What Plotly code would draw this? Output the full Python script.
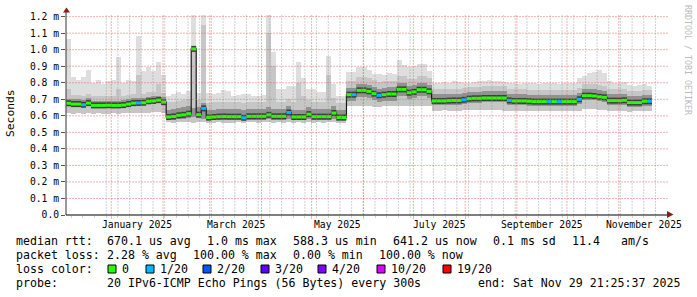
import plotly.graph_objects as go
import pandas as pd

# ---------------- data ----------------
T_START = "2024-12-04 21:25:37"
T_END = "2025-11-29 21:25:37"
BIN_DAYS = 3

# median rtt per 3-day bin (microseconds)
median_us = [676, 671, 671, 667, 677, 663, 663, 663, 664, 663,
             663, 665, 671, 677, 678, 679, 688, 690, 695, 683,
             593, 596, 603, 606, 613, 1005, 607, 645, 590, 593,
             595, 596, 595, 595, 595, 588, 597, 597, 597, 597,
             606, 597, 597, 597, 620, 593, 593, 593, 610, 595,
             595, 595, 595, 617, 590, 590, 728, 728, 754, 754,
             748, 734, 724, 728, 732, 732, 760, 760, 740, 745,
             758, 758, 748, 690, 690, 690, 692, 693, 693, 697,
             704, 706, 706, 708, 708, 708, 708, 708, 693, 690,
             690, 690, 688, 686, 686, 686, 686, 686, 686, 686,
             686, 686, 700, 722, 722, 720, 715, 712, 692, 692,
             692, 694, 680, 680, 680, 688, 688]

# lost pings (out of 20) per bin
loss_cnt = [0, 0, 0, 1, 0, 0, 0, 0, 0, 0,
            0, 0, 0, 0, 1, 0, 0, 0, 0, 0,
            0, 0, 0, 0, 0, 0, 0, 1, 0, 0,
            0, 0, 0, 0, 0, 1, 0, 0, 0, 0,
            0, 0, 0, 0, 1, 0, 0, 0, 0, 0,
            0, 0, 0, 0, 0, 0, 0, 1, 0, 0,
            0, 0, 1, 0, 0, 0, 0, 0, 0, 0,
            0, 0, 0, 0, 0, 0, 0, 0, 0, 1,
            0, 0, 0, 0, 0, 0, 0, 0, 1, 0,
            0, 0, 0, 0, 0, 0, 1, 0, 1, 0,
            0, 0, 1, 0, 0, 0, 0, 0, 0, 0,
            0, 0, 0, 0, 0, 0, 1]

# smoke: lowest ping, lower quartile, upper quartile, upper 90%, highest ping (microseconds)
lo_us = ([615, 614, 618, 612, 616, 613, 615, 612, 614, 616, 613, 615, 617, 616, 618, 615, 620, 622, 624, 618]
         + [560, 558, 562, 560, 563, 558, 560, 561, 556, 558, 560, 557, 559, 558, 560, 555, 561, 560,
            558, 560, 562, 559, 560, 558, 561, 557, 560, 558, 562, 559, 560, 558, 561, 563, 556, 558]
         + [660, 658, 662, 660, 658, 656, 655, 658, 660, 657, 662, 660, 658, 659, 662, 660, 658]
         + [632, 630, 633, 631, 630, 632, 634, 636, 635, 633, 636, 634, 635, 633, 632, 630, 631, 629,
            630, 632, 628, 630, 631, 629, 630, 632, 628, 631, 630, 632, 640, 642, 640, 638, 636, 630,
            631, 629, 632, 626, 628, 627, 630, 628])

q_lo_us = ([661, 656, 656, 652, 662, 648, 648, 648, 649, 648, 648, 650, 656, 662, 663, 664, 673, 675, 680, 668]
           + [573, 576, 580, 583, 588, 590, 585, 580, 570, 573, 575, 576, 575, 575, 575, 572, 577, 577,
              577, 577, 580, 577, 577, 577, 580, 573, 573, 573, 578, 575, 575, 575, 575, 580, 570, 570]
           + [688, 688, 714, 714, 708, 694, 684, 688, 692, 692, 720, 720, 700, 705, 718, 718, 708]
           + [663, 663, 663, 665, 666, 666, 670,
              677, 679, 679, 681, 681, 681, 681, 681, 666, 663,
              663, 663, 661, 659, 659, 659, 659, 659, 659, 659,
              659, 659, 673, 695, 695, 693, 688, 685, 665, 665,
              665, 667, 653, 653, 653, 661, 661])

q_hi_us = ([704, 699, 699, 695, 705, 691, 691, 691, 692, 691, 691, 693, 699, 705, 706, 707, 716, 718, 723, 711]
           + [638, 641, 648, 651, 658, 650, 652, 680, 635, 638, 640, 641, 640, 640, 640, 636, 642, 642,
              642, 642, 651, 642, 642, 642, 660, 638, 638, 638, 652, 640, 640, 640, 640, 660, 635, 635]
           + [768, 768, 794, 794, 788, 774, 764, 768, 772, 772, 800, 800, 780, 785, 798, 798, 788]
           + [730, 730, 730, 732, 733, 733, 737,
              744, 746, 746, 748, 748, 748, 748, 748, 733, 730,
              730, 730, 728, 726, 726, 726, 726, 726, 726, 726,
              726, 726, 740, 762, 762, 760, 755, 752, 732, 732,
              732, 734, 720, 720, 720, 728, 728])

p_hi_us = ([760, 726, 726, 722, 732, 718, 718, 718, 719, 718, 760, 720, 726, 732, 850, 734, 743, 745, 790, 738]
           + [681, 684, 691, 694, 701, 1000, 695, 1150, 678, 681, 683, 684, 683, 683, 683, 680, 685, 685,
              685, 685, 1100, 900, 685, 685, 700, 681, 800, 720, 695, 683, 683, 683, 850, 705, 678, 678]
           + [808, 808, 834, 834, 828, 814, 804, 808, 812, 812, 840, 840, 820, 825, 838, 838, 828]
           + [760, 760, 760, 762, 763, 763, 767,
              774, 776, 776, 778, 778, 778, 778, 778, 763, 760,
              760, 760, 758, 756, 756, 756, 756, 756, 756, 756,
              756, 756, 770, 792, 792, 790, 785, 782, 762, 762,
              762, 764, 750, 750, 750, 758, 758])

hi_us = [1066, 834, 815, 834, 880, 800, 815, 790, 810, 815,
         955, 800, 815, 810, 1080, 870, 895, 870, 925, 850,
         720, 735, 745, 735, 750, 1210, 740, 1210, 740, 735,
         740, 755, 750, 720, 725, 730, 735, 720, 720, 725,
         1210, 985, 760, 760, 780, 780, 925, 830, 760, 760,
         745, 745, 965, 790, 720, 720, 864, 864, 895, 895,
         880, 855, 855, 850, 860, 855, 935, 910, 895, 900,
         915, 915, 870, 800, 800, 805, 800, 810, 805, 800,
         800, 805, 810, 810, 815, 810, 810, 805, 800, 800,
         795, 800, 800, 800, 795, 800, 800, 800, 795, 800,
         800, 800, 830, 840, 860, 865, 880, 860, 810, 800,
         800, 805, 785, 780, 785, 790, 780]

loss_levels = [0, 1, 2, 3, 4, 10, 19]
loss_labels = ["0", "1/20", "2/20", "3/20", "4/20", "10/20", "19/20"]
loss_colors = ["#26ff00", "#00b8ff", "#0059ff", "#5e00ff", "#7e00ff", "#dd00ff", "#ff0000"]

y_tick_ms = [0.0, 0.1, 0.2, 0.3, 0.4, 0.5, 0.6, 0.7, 0.8, 0.9, 1.0, 1.1, 1.2]
y_tick_text = ["0.0", "0.1 m", "0.2 m", "0.3 m", "0.4 m", "0.5 m", "0.6 m",
               "0.7 m", "0.8 m", "0.9 m", "1.0 m", "1.1 m", "1.2 m"]

label_months = ["2025-01-01", "2025-03-01", "2025-05-01", "2025-07-01", "2025-09-01", "2025-11-01"]
label_texts = ["January 2025", "March 2025", "May 2025", "July 2025", "September 2025", "November 2025"]

legend_rows = [
    [("median rtt:", 16), ("670.1 us avg", 107), ("1.0 ms max", 207), ("588.3 us min", 293),
     ("641.2 us now", 393), ("0.1 ms sd", 493), ("11.4", 572), ("am/s", 621)],
    [("packet loss:", 16), ("2.28 % avg", 107), ("100.00 % max", 193), ("0.00 % min", 293),
     ("100.00 % now", 379)],
    [("loss color:", 16)],
    [("probe:", 16), ("20 IPv6-ICMP Echo Pings (56 Bytes) every 300s", 107),
     ("end: Sat Nov 29 21:25:37 2025", 478)],
]
swatch_px = [108, 146, 203, 261, 318, 377, 443]

# ---------------- geometry ----------------
W, H = 697, 297
ML, MR, MT, MB = 66, 30, 15, 82
PW, PH = W - ML - MR, H - MT - MB
Y_MAX = 1.21e-3
MONO = "DejaVu Sans Mono"


def xp(px):
    return (px - ML) / PW


def yp(py):
    return (H - MB - py) / PH


n = len(median_us)
for name, arr in [("loss", loss_cnt), ("lo", lo_us), ("qlo", q_lo_us), ("qhi", q_hi_us),
                  ("phi", p_hi_us), ("hi", hi_us)]:
    assert len(arr) == n, (name, len(arr), n)

t0 = pd.Timestamp(T_START)
t1 = pd.Timestamp(T_END)
step = pd.Timedelta(days=BIN_DAYS)
starts = [t0 + step * i for i in range(n)]
ends = [s + step for s in starts]
centers = [s + step / 2 for s in starts]
BIN_MS = BIN_DAYS * 86400000


def s(v):
    return v / 1e6


fig = go.Figure()


def band(lower, upper, color):
    fig.add_trace(go.Bar(
        x=centers, base=[s(l) for l in lower], y=[s(u - l) for l, u in zip(lower, upper)],
        width=BIN_MS, marker=dict(color=color, line=dict(width=0)),
        hoverinfo="skip", showlegend=False))


band(lo_us, hi_us, "#dedede")
band(lo_us, p_hi_us, "#c6c6c6")
band(q_lo_us, q_hi_us, "#929292")

# thin connector line (step)
fig.add_trace(go.Scatter(
    x=starts + [ends[-1]], y=[s(v) for v in median_us] + [s(median_us[-1])],
    mode="lines", line=dict(color="#1a1a1a", width=1.2, shape="hv"),
    hoverinfo="skip", showlegend=False))

# dark core around median
cx, cy = [], []
for a, b, m in zip(starts, ends, median_us):
    cx += [a, b, None]
    cy += [s(m), s(m), None]
fig.add_trace(go.Scatter(x=cx, y=cy, mode="lines", line=dict(color="#3c3c3c", width=6),
                         hoverinfo="skip", showlegend=False))

# median coloured by loss
for lvl, col in zip(loss_levels, loss_colors):
    gx, gy = [], []
    for a, b, m, l in zip(starts, ends, median_us, loss_cnt):
        if l == lvl:
            gx += [a, b, None]
            gy += [s(m), s(m), None]
    if gx:
        fig.add_trace(go.Scatter(x=gx, y=gy, mode="lines", line=dict(color=col, width=3),
                                 hoverinfo="skip", showlegend=False))

RED_GRID = "rgba(235,100,100,0.5)"
GRAY_GRID = "rgba(140,140,140,0.4)"
DASH = "2px,1px"

fig.update_layout(
    width=W, height=H, margin=dict(l=ML, r=MR, t=MT, b=MB),
    paper_bgcolor="white", plot_bgcolor="white",
    barmode="overlay", bargap=0, showlegend=False,
    font=dict(family=MONO, color="black"),
    xaxis=dict(
        type="date", range=[T_START, T_END],
        tick0="2025-01-01", dtick="M1",
        showticklabels=False, ticks="outside", ticklen=3, tickcolor=RED_GRID,
        showgrid=False,
        minor=dict(tick0="2024-12-29", dtick=7 * 86400000, showgrid=False,
                   ticks="outside", ticklen=2, tickcolor=GRAY_GRID),
        showline=False, zeroline=False, fixedrange=True,
    ),
    yaxis=dict(
        range=[0, Y_MAX], tickvals=[s(v * 1000) for v in y_tick_ms], ticktext=y_tick_text,
        ticks="outside", ticklen=4, tickcolor="#555555",
        tickfont=dict(family=MONO, size=9.7, color="black"),
        showgrid=False, showline=False, zeroline=False, fixedrange=True,
    ),
)

shapes = []
# grid drawn over the smoke, like rrdtool
wk = pd.Timestamp("2024-12-29")
while wk < t1:
    if wk > t0:
        shapes.append(dict(type="line", xref="x", yref="paper", x0=wk, x1=wk, y0=0, y1=1,
                           layer="above", line=dict(color=GRAY_GRID, width=1, dash=DASH)))
    wk += pd.Timedelta(days=7)
mo = pd.Timestamp("2025-01-01")
while mo < t1:
    shapes.append(dict(type="line", xref="x", yref="paper", x0=mo, x1=mo, y0=0, y1=1,
                       layer="above", line=dict(color=RED_GRID, width=1, dash=DASH)))
    mo += pd.offsets.MonthBegin(1)
for v in y_tick_ms[1:]:
    shapes.append(dict(type="line", xref="paper", yref="y", x0=0, x1=xp(668),
                       y0=s(v * 1000), y1=s(v * 1000),
                       layer="above", line=dict(color=RED_GRID, width=1, dash=DASH)))

# axes with arrows
shapes.append(dict(type="line", xref="paper", yref="paper", x0=0, x1=0, y0=0, y1=yp(11),
                   line=dict(color="#555555", width=1.2)))
shapes.append(dict(type="path", xref="paper", yref="paper",
                   path=f"M {xp(66.5)} {yp(7.5)} L {xp(63)} {yp(12.5)} L {xp(70)} {yp(12.5)} Z",
                   fillcolor="#8b1a1a", line=dict(width=0)))
shapes.append(dict(type="line", xref="paper", yref="paper", x0=0, x1=xp(668), y0=0, y1=0,
                   line=dict(color="black", width=1.2)))
shapes.append(dict(type="path", xref="paper", yref="paper",
                   path=f"M {xp(673.5)} {yp(214.5)} L {xp(667)} {yp(211)} L {xp(667)} {yp(218)} Z",
                   fillcolor="#8b1a1a", line=dict(width=0)))
# loss colour swatches
for px, col in zip(swatch_px, loss_colors):
    shapes.append(dict(type="rect", xref="paper", yref="paper",
                       x0=xp(px), x1=xp(px + 8), y0=yp(273), y1=yp(265),
                       fillcolor=col, line=dict(color="black", width=1)))

annotations = []
# month labels centred on the month
for m, txt in zip(label_months, label_texts):
    ms = pd.Timestamp(m)
    me = ms + pd.offsets.MonthBegin(1)
    mid = ms + (me - ms) / 2
    annotations.append(dict(x=mid, xref="x", y=yp(224.5), yref="paper", text=txt,
                            showarrow=False, xanchor="center", yanchor="middle",
                            font=dict(family=MONO, size=9.7, color="black")))

row_y = [241, 255, 269, 283]
for row, py in zip(legend_rows, row_y):
    for txt, px in row:
        annotations.append(dict(x=xp(px), xref="paper", y=yp(py), yref="paper", text=txt,
                                showarrow=False, xanchor="left", yanchor="middle",
                                borderpad=0, borderwidth=0,
                                font=dict(family=MONO, size=11.6, color="black")))
for px, txt in zip(swatch_px, loss_labels):
    annotations.append(dict(x=xp(px + 14), xref="paper", y=yp(269), yref="paper", text=txt,
                            showarrow=False, xanchor="left", yanchor="middle",
                            borderpad=0, borderwidth=0,
                            font=dict(family=MONO, size=11.6, color="black")))

annotations.append(dict(x=xp(10), xref="paper", y=yp(113), yref="paper", text="Seconds",
                        textangle=-90, showarrow=False, xanchor="center", yanchor="middle",
                        font=dict(family=MONO, size=11.3, color="black")))
annotations.append(dict(x=xp(688), xref="paper", y=yp(60), yref="paper",
                        text="RRDTOOL / TOBI OETIKER", textangle=90, showarrow=False,
                        xanchor="center", yanchor="middle",
                        font=dict(family=MONO, size=8.3, color="#bbbbbb")))

fig.update_layout(shapes=shapes, annotations=annotations)
fig.write_html("out.html")
